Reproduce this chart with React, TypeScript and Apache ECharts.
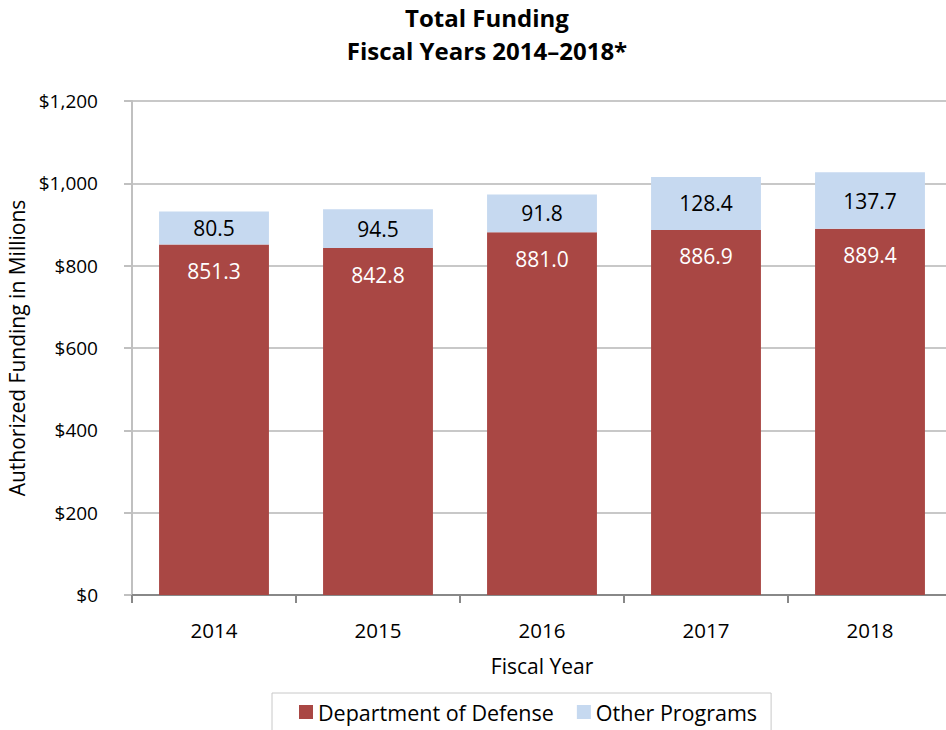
import React, { useEffect, useRef } from "react";
import * as echarts from "echarts";

const years = ["2014", "2015", "2016", "2017", "2018"];
const defense = [851.3, 842.8, 881.0, 886.9, 889.4];
const other = [80.5, 94.5, 91.8, 128.4, 137.7];
const yTicks = [0, 200, 400, 600, 800, 1000, 1200];

const FONT = "Open Sans";

export default function App() {
  const ref = useRef<HTMLDivElement>(null);
  useEffect(() => {
    const chart = echarts.init(ref.current!, null, { renderer: "svg" });
    chart.setOption({
      animation: false,
      backgroundColor: "#ffffff",
      textStyle: { fontFamily: FONT },
      title: {
        text: "Total Funding\nFiscal Years 2014\u20132018*",
        left: 482,
        top: -4,
        textAlign: "center",
        textStyle: { fontFamily: FONT, fontSize: 24, fontWeight: "bold", color: "#000", lineHeight: 33 },
      },
      legend: {
        left: 272,
        top: 693,
        orient: "horizontal",
        borderColor: "#c8c8c8",
        borderWidth: 1,
        padding: [8, 14, 14, 27],
        itemWidth: 14,
        itemHeight: 14,
        itemGap: 23,
        icon: "rect",
        textStyle: { fontFamily: FONT, fontSize: 21.5, color: "#000" },
        data: ["Department of Defense", "Other Programs"],
      },
      grid: { left: 132, top: 101, width: 820, height: 494, containLabel: false, outerBoundsMode: "none" },
      xAxis: {
        type: "category",
        data: years,
        name: "Fiscal Year",
        nameLocation: "middle",
        nameGap: 60,
        nameTextStyle: { fontFamily: FONT, fontSize: 21, color: "#000" },
        axisLine: { lineStyle: { color: "#888", width: 2 } },
        axisTick: { show: true, length: 8, lineStyle: { color: "#888", width: 2 } },
        axisLabel: { fontFamily: FONT, fontSize: 20.5, color: "#000", margin: 24 },
      },
      yAxis: {
        type: "value",
        min: yTicks[0],
        max: yTicks[yTicks.length - 1],
        interval: 200,
        name: "Authorized Funding in Millions",
        nameLocation: "middle",
        nameGap: 104,
        nameTextStyle: { fontFamily: FONT, fontSize: 21, color: "#000" },
        axisLine: { show: true, lineStyle: { color: "#c0c0c0", width: 2 } },
        axisTick: { show: true, length: 8, lineStyle: { color: "#c0c0c0", width: 2 } },
        splitLine: { lineStyle: { color: "#c8c8c8", width: 2 } },
        axisLabel: {
          fontFamily: FONT,
          fontSize: 19,
          color: "#000",
          margin: 34,
          formatter: (v: number) => "$" + v.toLocaleString("en-US"),
        },
      },
      series: [
        {
          name: "Department of Defense",
          type: "bar",
          stack: "total",
          barWidth: "67%",
          data: defense,
          itemStyle: { color: "#A94744" },
          label: {
            show: true,
            position: "insideTop",
            distance: 16,
            color: "#fff",
            fontFamily: FONT,
            fontSize: 21,
            formatter: (p: any) => p.value.toFixed(1),
          },
        },
        {
          name: "Other Programs",
          type: "bar",
          stack: "total",
          data: other,
          itemStyle: { color: "#C6D9F0" },
          label: {
            show: true,
            position: "inside",
            color: "#000",
            fontFamily: FONT,
            fontSize: 21,
            formatter: (p: any) => p.value.toFixed(1),
          },
        },
      ],
    });
    return () => chart.dispose();
  }, []);
  return <div ref={ref} style={{ position: "fixed", left: 0, top: 0, width: 960, height: 730 }} />;
}
